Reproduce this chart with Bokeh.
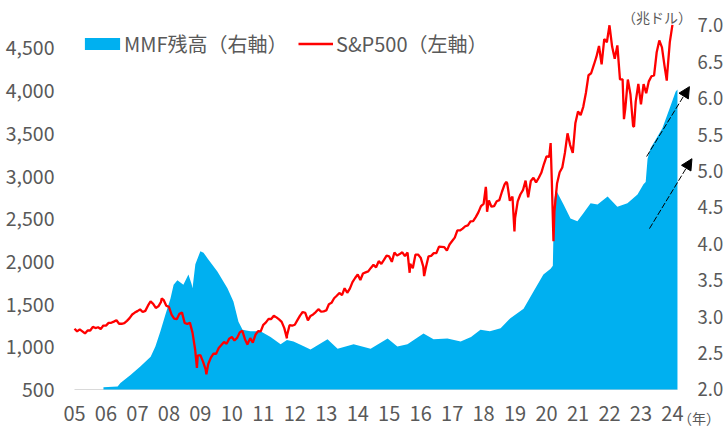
from bokeh.plotting import figure
from bokeh.models import (Range1d, LinearAxis, FixedTicker, NumeralTickFormatter, Legend,
                          LegendItem, Arrow, NormalHead, Label, ColumnDataSource)
from bokeh.embed import file_html
from bokeh.resources import INLINE

# ---------------- data ----------------
tick_years = [2005, 2006, 2007, 2008, 2009, 2010, 2011, 2012, 2013, 2014,
              2015, 2016, 2017, 2018, 2019, 2020, 2021, 2022, 2023, 2024]
tick_labels = ["05", "06", "07", "08", "09", "10", "11", "12", "13", "14",
               "15", "16", "17", "18", "19", "20", "21", "22", "23", "24"]
left_ticks = [500, 1000, 1500, 2000, 2500, 3000, 3500, 4000, 4500]
right_ticks = [2.0, 2.5, 3.0, 3.5, 4.0, 4.5, 5.0, 5.5, 6.0, 6.5, 7.0]

# S&P500 month-end closes, Dec 2004 .. Dec 2023 (left axis)
sp_start_year = 2005
sp_close = [
    1212,
    1181, 1204, 1181, 1157, 1192, 1191, 1234, 1220, 1229, 1207, 1249, 1248,
    1280, 1281, 1295, 1311, 1270, 1270, 1277, 1304, 1336, 1378, 1401, 1418,
    1438, 1407, 1421, 1482, 1531, 1503, 1455, 1474, 1527, 1549, 1481, 1468,
    1378, 1331, 1323, 1386, 1400, 1280, 1267, 1283, 1166, 969, 896, 903,
    826, 735, 798, 873, 919, 919, 987, 1021, 1057, 1036, 1096, 1115,
    1074, 1104, 1169, 1187, 1089, 1031, 1102, 1049, 1141, 1183, 1181, 1258,
    1286, 1327, 1326, 1364, 1345, 1321, 1292, 1219, 1131, 1253, 1247, 1258,
    1312, 1366, 1408, 1398, 1310, 1362, 1379, 1407, 1441, 1412, 1416, 1426,
    1498, 1515, 1569, 1598, 1631, 1606, 1686, 1633, 1682, 1757, 1806, 1848,
    1783, 1859, 1872, 1884, 1924, 1960, 1931, 2003, 1972, 2018, 2068, 2059,
    1995, 2105, 2068, 2086, 2107, 2063, 2104, 1972, 1920, 2079, 2080, 2044,
    1940, 1932, 2060, 2065, 2097, 2099, 2174, 2171, 2168, 2126, 2199, 2239,
    2279, 2364, 2363, 2384, 2412, 2423, 2470, 2472, 2519, 2575, 2648, 2674,
    2824, 2714, 2641, 2648, 2705, 2718, 2816, 2902, 2914, 2711, 2760, 2507,
    2704, 2784, 2834, 2946, 2752, 2942, 2980, 2926, 2977, 3038, 3141, 3231,
    3226, 2954, 2585, 2912, 3044, 3100, 3271, 3500, 3363, 3270, 3622, 3756,
    3714, 3811, 3973, 4181, 4204, 4298, 4395, 4523, 4308, 4605, 4567, 4766,
    4516, 4374, 4530, 4132, 4132, 3785, 4130, 3955, 3586, 3872, 4080, 3840,
    4077, 3970, 4109, 4169, 4180, 4450, 4589, 4508, 4288, 4194, 4568, 4770,
]
# intra-month highs / lows
sp_extreme_dates = [2007.77, 2008.89, 2009.19, 2010.50, 2011.75, 2015.65, 2016.11,
                    2018.07, 2018.11, 2018.72, 2018.98, 2020.13, 2020.22, 2022.46,
                    2022.78, 2023.82]
sp_extreme_vals = [1565, 752, 677, 1023, 1099, 1867, 1829,
                   2873, 2581, 2931, 2351, 3386, 2237, 3667,
                   3577, 4117]

# MMF total assets, trillion USD (right axis)
mmf_dates = [2005.92, 2006.37, 2006.46, 2006.78, 2007.10, 2007.42, 2007.57, 2007.73,
             2007.89, 2008.05, 2008.15, 2008.27, 2008.46, 2008.62, 2008.72, 2008.75,
             2008.84, 2009.00, 2009.10, 2009.23, 2009.54, 2009.86, 2010.05, 2010.21,
             2010.34, 2010.59, 2010.91, 2011.23, 2011.55, 2011.75, 2011.96, 2012.25,
             2012.50, 2013.04, 2013.36, 2013.87, 2014.41, 2014.95, 2015.26, 2015.58,
             2016.09, 2016.41, 2016.85, 2017.27, 2017.60, 2017.90, 2018.20, 2018.54,
             2018.85, 2019.27, 2019.59, 2019.90, 2020.13, 2020.20, 2020.24, 2020.30,
             2020.54, 2020.76, 2020.98, 2021.17, 2021.40, 2021.62, 2021.94, 2022.25,
             2022.57, 2022.89, 2023.08, 2023.15, 2023.21, 2023.30, 2023.68, 2023.91,
             2024.10, 2024.16]
mmf_vals = [2.03, 2.04, 2.09, 2.20, 2.32, 2.45, 2.59, 2.80,
            3.03, 3.25, 3.44, 3.50, 3.44, 3.58, 3.45, 3.39,
            3.72, 3.90, 3.88, 3.80, 3.62, 3.39, 3.21, 2.93,
            2.82, 2.80, 2.80, 2.72, 2.62, 2.68, 2.66, 2.60,
            2.55, 2.69, 2.56, 2.62, 2.56, 2.70, 2.59, 2.62,
            2.77, 2.69, 2.70, 2.66, 2.72, 2.82, 2.80, 2.84,
            2.98, 3.11, 3.35, 3.58, 3.66, 3.70, 4.60, 4.74,
            4.54, 4.35, 4.31, 4.42, 4.56, 4.54, 4.65, 4.51,
            4.56, 4.68, 4.82, 4.85, 5.17, 5.31, 5.59, 5.86,
            6.09, 6.12]

# arrows (right-axis units)
arrow_x_start = [2023.18, 2023.27]
arrow_y_start = [5.20, 4.21]
arrow_x_end = [2024.54, 2024.62]
arrow_y_end = [6.16, 5.17]

# ---------------- layout constants ----------------
X_RANGE = (2002.6485, 2025.6546)
YL_RANGE = (19.8, 5056.1)
YR_RANGE = (1.4368, 7.3434)
LEFT_AXIS_AT = 2004.968
RIGHT_AXIS_AT = 2024.574

FONT = "Noto Sans CJK JP"
GREY = "#595959"

# ---------------- build ----------------
sp_pts = [(sp_start_year + i / 12, v) for i, v in enumerate(sp_close)]
sp_pts += list(zip(sp_extreme_dates, sp_extreme_vals))
sp_pts.sort()
sp_x = [d for d, _ in sp_pts]
sp_y = [v for _, v in sp_pts]

p = figure(width=724, height=430, output_backend="svg", toolbar_location=None,
           x_range=Range1d(*X_RANGE), y_range=Range1d(*YL_RANGE), min_border=0)
p.extra_y_ranges = {"right": Range1d(*YR_RANGE)}
p.outline_line_color = None
p.grid.visible = False
p.border_fill_color = "white"
p.background_fill_color = "white"

p.add_layout(LinearAxis(y_range_name="right", fixed_location=RIGHT_AXIS_AT), "right")
p.xaxis[0].fixed_location = left_ticks[0]
p.yaxis[0].fixed_location = LEFT_AXIS_AT

for ax in p.axis:
    ax.axis_line_color = None
    ax.major_tick_line_color = None
    ax.minor_tick_line_color = None
    ax.major_tick_out = 0
    ax.major_tick_in = 0
    ax.major_label_text_font = FONT
    ax.major_label_text_color = GREY

p.xaxis.ticker = FixedTicker(ticks=tick_years)
p.xaxis.major_label_overrides = {y: l for y, l in zip(tick_years, tick_labels)}
p.xaxis.major_label_standoff = 16
p.xaxis.major_label_text_font_size = "20px"

p.yaxis[0].ticker = FixedTicker(ticks=left_ticks)
p.yaxis[0].formatter = NumeralTickFormatter(format="0,0")
p.yaxis[0].major_label_standoff = 19
p.yaxis[0].major_label_text_font_size = "19.5px"

p.yaxis[1].ticker = FixedTicker(ticks=right_ticks)
p.yaxis[1].formatter = NumeralTickFormatter(format="0.0")
p.yaxis[1].major_label_standoff = 7
p.yaxis[1].major_label_text_font_size = "18.5px"

# baseline
p.line([sp_x[0], mmf_dates[-1]], [left_ticks[0], left_ticks[0]], line_color="#D9D9D9", line_width=1.2)

area = p.varea(x=mmf_dates, y1=right_ticks[0], y2=mmf_vals, y_range_name="right",
               fill_color="#00B0F0")
line = p.line(sp_x, sp_y, line_color="#FF0000", line_width=2.3)

arrows = ColumnDataSource(dict(x0=arrow_x_start, y0=arrow_y_start, x1=arrow_x_end, y1=arrow_y_end))
p.add_layout(Arrow(source=arrows, x_start="x0", y_start="y0", x_end="x1", y_end="y1",
                   y_range_name="right", line_color="black", line_width=1, line_dash="6 2",
                   end=NormalHead(size=11, fill_color="black", line_color="black", line_width=1)))

def make_legend(item, loc, gw, gh, standoff):
    return Legend(items=[item], location=loc, glyph_width=gw, glyph_height=gh,
                  label_standoff=standoff, padding=0, margin=0, spacing=0,
                  border_line_color=None, background_fill_alpha=0,
                  label_text_font=FONT, label_text_font_size="20px", label_text_color=GREY)

p.add_layout(make_legend(LegendItem(label="MMF残高（右軸）", renderers=[area]), (80, 372), 44, 15, 0))
p.add_layout(make_legend(LegendItem(label="S&P500（左軸）", renderers=[line]), (298, 372), 35, 15, 3))

p.add_layout(Label(x=2024.619, y=7.11, y_range_name="right", text="（兆ドル）", text_align="right",
                   text_baseline="middle", text_font=FONT, text_font_size="14px", text_color=GREY))
p.add_layout(Label(x=2024.18, y=172, text="（年）", text_align="left",
                   text_baseline="middle", text_font=FONT, text_font_size="14px", text_color=GREY))

open("out.html", "w").write(file_html(p, INLINE))
